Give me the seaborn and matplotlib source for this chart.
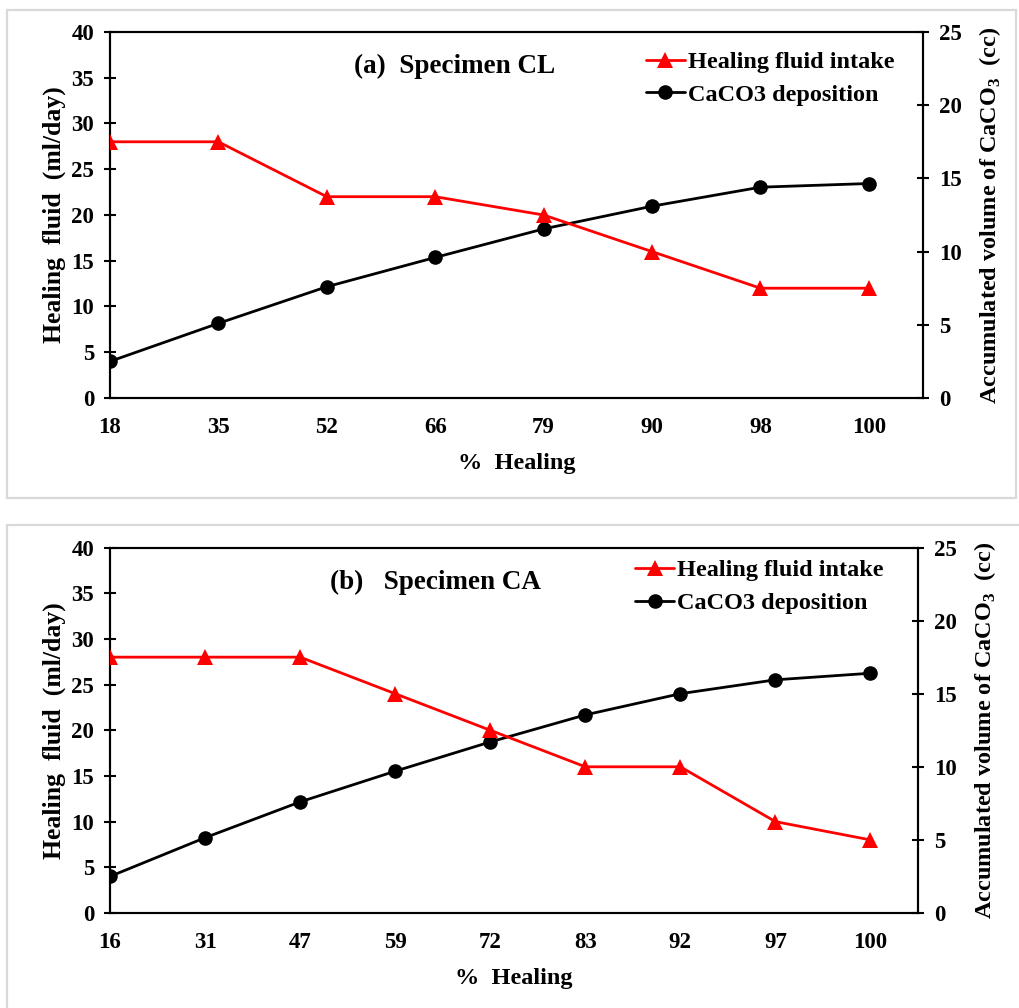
import matplotlib
matplotlib.use("Agg")
import matplotlib.pyplot as plt
import seaborn as sns
import pandas as pd
from matplotlib.patches import Rectangle
from matplotlib.lines import Line2D

# Panel (a): Specimen CL
heal_cl = ["18", "35", "52", "66", "79", "90", "98", "100"]
fluid_cl = [28, 28, 22, 22, 20, 16, 12, 12]
caco3_cl = [2.5, 5.1, 7.6, 9.6, 11.55, 13.1, 14.4, 14.65]

# Panel (b): Specimen CA
heal_ca = ["16", "31", "47", "59", "72", "83", "92", "97", "100"]
fluid_ca = [28, 28, 28, 24, 20, 16, 16, 10, 8]
caco3_ca = [2.5, 5.15, 7.6, 9.7, 11.7, 13.55, 15.0, 15.95, 16.4]

sns.set_style("white")
plt.rcParams["font.family"] = ["Liberation Serif", "DejaVu Serif"]
plt.rcParams["font.weight"] = "bold"
plt.rcParams["mathtext.fontset"] = "custom"
plt.rcParams["mathtext.rm"] = "Liberation Serif"
plt.rcParams["mathtext.bf"] = "Liberation Serif:bold"
for key in ("text.color", "axes.labelcolor", "xtick.color", "ytick.color"):
    plt.rcParams[key] = "black"

W, H = 1019, 1008
fig = plt.figure(figsize=(W / 100, H / 100), dpi=100)

# light grey frames around each panel
fig.patches.append(Rectangle((7 / W, 1 - 498 / H), (1016 - 7) / W, (498 - 10) / H,
                             transform=fig.transFigure, fill=False,
                             edgecolor="#d9d9d9", linewidth=1.6))
fig.patches.append(Rectangle((7 / W, -0.05), 1.2, 0.05 + 1 - 525 / H,
                             transform=fig.transFigure, fill=False,
                             edgecolor="#d9d9d9", linewidth=1.6))

TICK_FS = 16.5


def panel(rect, cats, fluid, caco3, title, title_xy, leg_xy):
    ax = fig.add_axes(rect)
    ax2 = ax.twinx()
    df = pd.DataFrame({"pos": range(len(cats)), "fluid": fluid, "caco3": caco3})
    sns.lineplot(data=df, x="pos", y="fluid", ax=ax, color="#ff0000", marker="^",
                 markersize=11, markeredgewidth=0, linewidth=2.0, sort=False, zorder=3)
    sns.lineplot(data=df, x="pos", y="caco3", ax=ax2, color="black", marker="o",
                 markersize=10.5, markeredgewidth=0, linewidth=2.0, sort=False, zorder=3)
    ax.set_xlim(0, len(cats) - 0.5)
    ax.set_ylim(0, 40)
    ax2.set_ylim(0, 25)
    ax.set_xticks(range(len(cats)))
    ax.set_xticklabels(cats)
    ax.set_yticks(range(0, 41, 5))
    ax2.set_yticks(range(0, 26, 5))
    for a in (ax, ax2):
        for s in a.spines.values():
            s.set_linewidth(1.5)
            s.set_color("black")
    ax.tick_params(axis="x", direction="inout", length=9, width=1.5,
                   labelsize=TICK_FS, pad=9, colors="black")
    ax.tick_params(axis="y", direction="inout", length=9, width=1.5,
                   labelsize=TICK_FS, pad=7, colors="black")
    ax2.tick_params(axis="y", direction="inout", length=9, width=1.5,
                    labelsize=TICK_FS, pad=7, colors="black")
    for lab in ax.get_xticklabels() + ax.get_yticklabels() + ax2.get_yticklabels():
        lab.set_fontweight("bold")
    ax.set_xlabel("%  Healing", fontsize=17.5, fontweight="bold", labelpad=11)
    ax.set_ylabel("Healing  fluid  (ml/day)", fontsize=18.5, fontweight="bold",
                  labelpad=4)
    ax2.set_ylabel(r"Accumulated volume of CaCO$_\mathbf{3}$  (cc)", fontsize=17.5,
                   fontweight="bold", labelpad=11)
    ax.text(title_xy[0], title_xy[1], title, transform=ax.transAxes,
            fontsize=19.5, fontweight="bold", va="center", ha="left")
    handles = [
        Line2D([], [], color="#ff0000", marker="^", markersize=11,
               markeredgewidth=0, linewidth=2.0),
        Line2D([], [], color="black", marker="o", markersize=10.5,
               markeredgewidth=0, linewidth=2.0),
    ]
    ax.legend(handles, ["Healing fluid intake", "CaCO3 deposition"],
              loc="upper left", bbox_to_anchor=leg_xy, frameon=False,
              prop={"size": 17.5, "weight": "bold"}, handlelength=1.6,
              handletextpad=0.12, borderpad=0, borderaxespad=0,
              labelspacing=0.45)
    ax.set_zorder(ax2.get_zorder() + 1)
    ax.patch.set_visible(False)
    return ax, ax2


panel([110 / W, 1 - 398 / H, (923 - 110) / W, 366 / H], heal_cl, fluid_cl, caco3_cl,
      "(a)  Specimen CL", (0.30, 0.905), (0.659, 0.948))
panel([110 / W, 1 - 913 / H, (918 - 110) / W, 365.5 / H], heal_ca, fluid_ca, caco3_ca,
      "(b)   Specimen CA", (0.272, 0.905), (0.65, 0.968))

fig.savefig("out.png", dpi=100)
